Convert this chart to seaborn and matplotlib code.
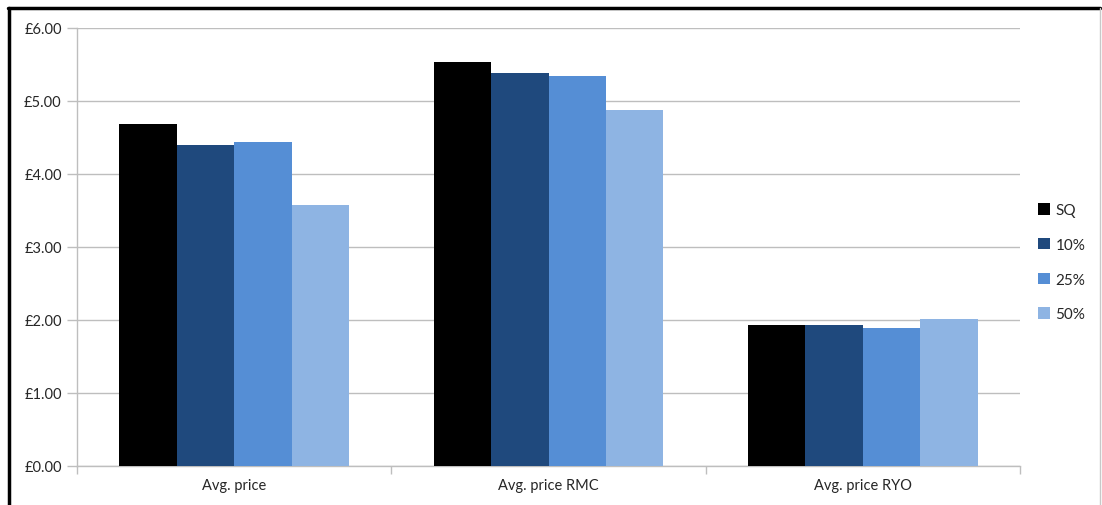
import matplotlib
matplotlib.use("Agg")
import matplotlib.pyplot as plt
from matplotlib.lines import Line2D
from matplotlib.ticker import FixedLocator, FuncFormatter
import seaborn as sns
import pandas as pd

categories = ["Avg. price", "Avg. price RMC", "Avg. price RYO"]
scenarios = ["SQ", "10%", "25%", "50%"]
sq = [4.68, 5.53, 1.93]
pct10 = [4.40, 5.38, 1.93]
pct25 = [4.44, 5.34, 1.89]
pct50 = [3.58, 4.88, 2.01]
colors = ["#000000", "#1F497D", "#558ED5", "#8EB4E3"]

rows = []
for name, vals in zip(scenarios, [sq, pct10, pct25, pct50]):
    for cat, v in zip(categories, vals):
        rows.append({"category": cat, "scenario": name, "price": v})
df = pd.DataFrame(rows)

sns.set_theme(style="white")
plt.rcParams["font.family"] = ["Lato", "DejaVu Sans"]

fig = plt.figure(figsize=(11.02, 5.06), dpi=100)
ax = fig.add_axes([0.0699, 0.0771, 0.8557, 0.8656])

sns.barplot(data=df, x="category", y="price", hue="scenario",
            hue_order=scenarios, palette=colors, width=0.73, gap=0,
            saturation=1, ax=ax, zorder=3, edgecolor="none")

ax.set_ylim(0, 6)
ax.set_xlim(-0.5, 2.5)
ax.set_yticks([0, 1, 2, 3, 4, 5, 6])
ax.yaxis.set_major_formatter(FuncFormatter(lambda v, p: f"£{v:.2f}"))
ax.grid(axis="y", color="#BEBEBE", linewidth=1, zorder=0)
ax.set_axisbelow(True)
ax.set_xlabel("")
ax.set_ylabel("")

for s in ["top", "right"]:
    ax.spines[s].set_visible(False)
for s in ["left", "bottom"]:
    ax.spines[s].set_color("#BEBEBE")
    ax.spines[s].set_linewidth(1)

ax.tick_params(axis="y", which="major", length=7, width=1, color="#BEBEBE",
               labelsize=10.5, labelcolor="#262626", pad=4, left=True)
ax.tick_params(axis="x", which="major", length=0, labelsize=10.5,
               labelcolor="#262626", pad=9)
ax.xaxis.set_minor_locator(FixedLocator([-0.5, 0.5, 1.5, 2.5]))
ax.tick_params(axis="x", which="minor", length=6, width=1, color="#BEBEBE",
               bottom=True, direction="out")

handles, labels = ax.get_legend_handles_labels()
ax.legend(handles, labels, loc="center left", bbox_to_anchor=(1.005, 0.465),
          frameon=False, fontsize=11, handlelength=0.75, handleheight=0.75,
          handletextpad=0.35, labelspacing=1.35, labelcolor="#262626")

# outer frame: heavy top and left edges, faint right edge
fig.add_artist(Line2D([0.0082, 0.0082], [0.0, 0.9822], color="black",
                      linewidth=2.5, transform=fig.transFigure))
fig.add_artist(Line2D([0.0070, 0.9985], [0.9822, 0.9822], color="black",
                      linewidth=2.5, transform=fig.transFigure))
fig.add_artist(Line2D([0.9985, 0.9985], [0.0, 0.9822], color="#C8C8C8",
                      linewidth=1, transform=fig.transFigure))

fig.savefig("out.png", dpi=100)
